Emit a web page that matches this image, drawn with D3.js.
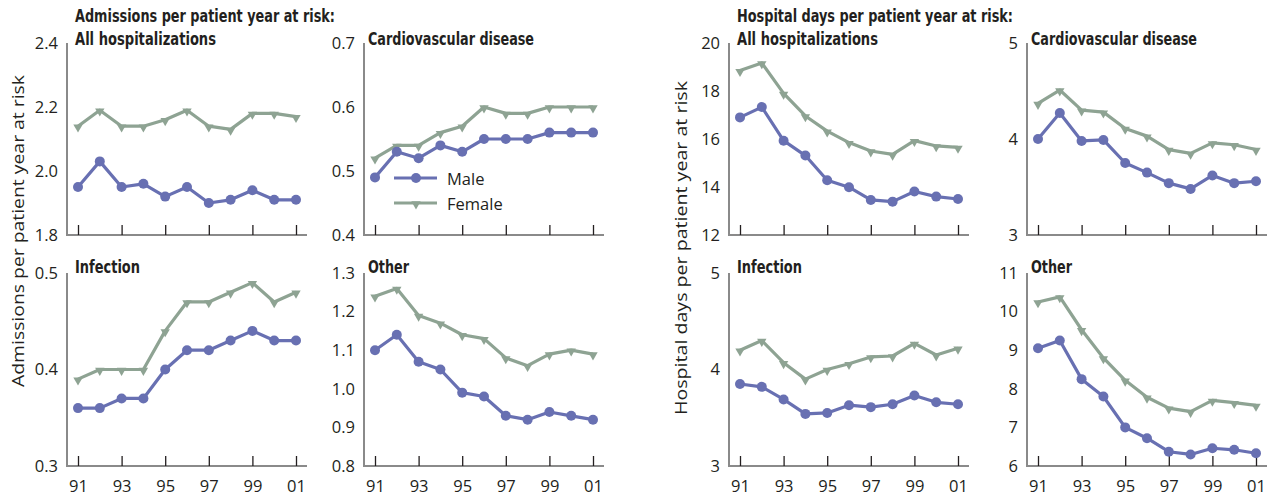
<!DOCTYPE html>
<html><head><meta charset="utf-8">
<script src="https://cdn.jsdelivr.net/npm/d3@7"></script>
<style>
html,body{margin:0;padding:0;background:#fff;}
svg{display:block;}
</style></head>
<body>
<svg id="chart" width="1269" height="497"></svg>
<script>
const years = [1991,1992,1993,1994,1995,1996,1997,1998,1999,2000,2001];
const tickYears = [1991,1993,1995,1997,1999,2001];
const tickYearLabels = ["91","93","95","97","99","01"];
const seriesNames = ["Male","Female"];

const groupTitles = ["Admissions per patient year at risk:", "Hospital days per patient year at risk:"];
const groupAxisTitles = ["Admissions per patient year at risk", "Hospital days per patient year at risk"];
const panelTitles = ["All hospitalizations","Cardiovascular disease","Infection","Other"];

// Admissions per patient year at risk
const admAllMale   = [1.95,2.03,1.95,1.96,1.92,1.95,1.90,1.91,1.94,1.91,1.91];
const admAllFemale = [2.14,2.19,2.14,2.14,2.16,2.19,2.14,2.13,2.18,2.18,2.17];
const admCvdMale   = [0.49,0.53,0.52,0.54,0.53,0.55,0.55,0.55,0.56,0.56,0.56];
const admCvdFemale = [0.52,0.54,0.54,0.56,0.57,0.60,0.59,0.59,0.60,0.60,0.60];
const admInfMale   = [0.36,0.36,0.37,0.37,0.40,0.42,0.42,0.43,0.44,0.43,0.43];
const admInfFemale = [0.39,0.40,0.40,0.40,0.44,0.47,0.47,0.48,0.49,0.47,0.48];
const admOthMale   = [1.10,1.14,1.07,1.05,0.99,0.98,0.93,0.92,0.94,0.93,0.92];
const admOthFemale = [1.24,1.26,1.19,1.17,1.14,1.13,1.08,1.06,1.09,1.10,1.09];

// Hospital days per patient year at risk
const dayAllMale   = [16.9,17.33,15.93,15.31,14.28,13.99,13.46,13.39,13.81,13.6,13.5];
const dayAllFemale = [18.85,19.17,17.9,16.96,16.33,15.85,15.5,15.36,15.93,15.71,15.65];
const dayCvdMale   = [4.00,4.27,3.98,3.99,3.75,3.65,3.54,3.48,3.62,3.54,3.56];
const dayCvdFemale = [4.37,4.51,4.30,4.28,4.11,4.03,3.89,3.85,3.96,3.94,3.89];
const dayInfMale   = [3.85,3.82,3.69,3.54,3.55,3.63,3.61,3.64,3.73,3.66,3.64];
const dayInfFemale = [4.20,4.30,4.07,3.90,4.00,4.06,4.13,4.14,4.27,4.15,4.22];
const dayOthMale   = [9.05,9.25,8.25,7.80,7.00,6.72,6.37,6.30,6.46,6.42,6.33];
const dayOthFemale = [10.25,10.38,9.53,8.80,8.22,7.78,7.50,7.41,7.70,7.64,7.57];

// y tick values per panel
const admAllTicks = [1.8,2.0,2.2,2.4];
const admCvdTicks = [0.4,0.5,0.6,0.7];
const admInfTicks = [0.3,0.4,0.5];
const admOthTicks = [0.8,0.9,1.0,1.1,1.2,1.3];
const dayAllTicks = [12,14,16,18,20];
const dayCvdTicks = [3,4,5];
const dayInfTicks = [3,4,5];
const dayOthTicks = [6,7,8,9,10,11];

const colors = {Male:"#6870b2", Female:"#8ea393"};
const ink = "#231f20";
const axisCol = "#8a8a8a";

const panels = [
  {g:0,col:0,row:0,title:panelTitles[0],male:admAllMale,female:admAllFemale,ticks:admAllTicks,fmt:d3.format(".1f")},
  {g:0,col:1,row:0,title:panelTitles[1],male:admCvdMale,female:admCvdFemale,ticks:admCvdTicks,fmt:d3.format(".1f"),legend:true},
  {g:0,col:0,row:1,title:panelTitles[2],male:admInfMale,female:admInfFemale,ticks:admInfTicks,fmt:d3.format(".1f")},
  {g:0,col:1,row:1,title:panelTitles[3],male:admOthMale,female:admOthFemale,ticks:admOthTicks,fmt:d3.format(".1f")},
  {g:1,col:0,row:0,title:panelTitles[0],male:dayAllMale,female:dayAllFemale,ticks:dayAllTicks,fmt:d3.format("d")},
  {g:1,col:1,row:0,title:panelTitles[1],male:dayCvdMale,female:dayCvdFemale,ticks:dayCvdTicks,fmt:d3.format("d")},
  {g:1,col:0,row:1,title:panelTitles[2],male:dayInfMale,female:dayInfFemale,ticks:dayInfTicks,fmt:d3.format("d")},
  {g:1,col:1,row:1,title:panelTitles[3],male:dayOthMale,female:dayOthFemale,ticks:dayOthTicks,fmt:d3.format("d")},
];

// layout
const axisX = [[67,364],[729,1027]];
const rowTop = [43,273], rowBot = [235,466];
const panelW = 240;
const boldFont = "'Liberation Sans Narrow','DejaVu Sans Condensed','Roboto Condensed',sans-serif";
const regFont = "'Open Sans','Noto Sans',sans-serif";

const svg = d3.select("#chart");

// group titles and y axis titles
const groupTitleX = [75,737];
const groupTitleW = [260,276];
const axisTitleX = [17,680];
const axisTitleY = [231,248];
const axisTitleW = [312,334];
[0,1].forEach(g=>{
  svg.append("text").attr("x",groupTitleX[g]).attr("y",22)
    .attr("font-family",boldFont).attr("font-weight","bold").attr("font-size",18.5)
    .attr("fill",ink).attr("textLength",groupTitleW[g]).attr("lengthAdjust","spacingAndGlyphs")
    .text(groupTitles[g]);
  svg.append("text")
    .attr("transform",`translate(${axisTitleX[g]},${axisTitleY[g]}) rotate(-90)`)
    .attr("text-anchor","middle").attr("dominant-baseline","central")
    .attr("font-family",regFont).attr("font-size",16.5).attr("fill",ink)
    .attr("textLength",axisTitleW[g]).attr("lengthAdjust","spacingAndGlyphs")
    .text(groupAxisTitles[g]);
});

const titleW = {"All hospitalizations":141,"Cardiovascular disease":166,"Infection":65,"Other":41};

const symTri = d3.symbol().type(d3.symbolTriangle).size(38);

panels.forEach(p=>{
  const x0 = axisX[p.g][p.col];
  const top = rowTop[p.row], bot = rowBot[p.row];
  const x = d3.scaleLinear().domain([1991,2001]).range([x0+11,x0+229]);
  const y = d3.scaleLinear().domain([p.ticks[0],p.ticks[p.ticks.length-1]]).range([bot,top]);
  const g = svg.append("g");

  // axes lines
  g.append("line").attr("x1",x0).attr("x2",x0).attr("y1",top).attr("y2",bot)
    .attr("stroke",axisCol).attr("stroke-width",2);
  g.append("line").attr("x1",x0-1).attr("x2",x0+panelW).attr("y1",bot).attr("y2",bot)
    .attr("stroke",axisCol).attr("stroke-width",2);

  // x ticks (inward)
  const xa = d3.axisBottom(x).tickValues(tickYears).tickSizeInner(-10).tickSizeOuter(0)
    .tickFormat((d,i)=> p.row===1 ? tickYearLabels[i] : "");
  const xg = g.append("g").attr("transform",`translate(0,${bot})`).call(xa);
  xg.select(".domain").remove();
  xg.selectAll(".tick line").attr("stroke",ink).attr("stroke-width",1.3);
  xg.selectAll(".tick text").attr("font-family",regFont).attr("font-size",16.5).attr("fill",ink)
    .attr("y",14).attr("dy","0.71em");

  // y tick labels
  const ya = d3.axisLeft(y).tickValues(p.ticks).tickSize(0).tickPadding(9).tickFormat(p.fmt);
  const yg = g.append("g").attr("transform",`translate(${x0},0)`).call(ya);
  yg.select(".domain").remove();
  yg.selectAll(".tick text").attr("font-family",regFont).attr("font-size",16.5).attr("fill",ink);

  // title
  const ty = p.row===0 ? 45 : 273;
  g.append("text").attr("x",x0+(p.col===0?8:4)).attr("y",ty)
    .attr("font-family",boldFont).attr("font-weight","bold").attr("font-size",18.5).attr("fill",ink)
    .attr("textLength",titleW[p.title]).attr("lengthAdjust","spacingAndGlyphs")
    .text(p.title);

  const line = d3.line().x((d,i)=>x(years[i])).y(d=>y(d));
  // female
  g.append("path").datum(p.female).attr("d",line).attr("fill","none")
    .attr("stroke",colors.Female).attr("stroke-width",3.2).attr("stroke-linejoin","round");
  g.selectAll(".tf").data(p.female).enter().append("path")
    .attr("d",symTri).attr("fill",colors.Female)
    .attr("transform",(d,i)=>`translate(${x(years[i])},${y(d)+1}) rotate(180)`);
  // male
  g.append("path").datum(p.male).attr("d",line).attr("fill","none")
    .attr("stroke",colors.Male).attr("stroke-width",3.2).attr("stroke-linejoin","round");
  g.selectAll(".cm").data(p.male).enter().append("circle")
    .attr("cx",(d,i)=>x(years[i])).attr("cy",d=>y(d)).attr("r",5).attr("fill",colors.Male);

  if(p.legend){
    const lx = x0+30, ly = [178,203];
    seriesNames.forEach((s,i)=>{
      g.append("line").attr("x1",lx).attr("x2",lx+43).attr("y1",ly[i]).attr("y2",ly[i])
        .attr("stroke",colors[s]).attr("stroke-width",3.2);
      if(s==="Male"){
        g.append("circle").attr("cx",lx+22).attr("cy",ly[i]).attr("r",5).attr("fill",colors[s]);
      } else {
        g.append("path").attr("d",symTri).attr("fill",colors[s])
          .attr("transform",`translate(${lx+22},${ly[i]+1}) rotate(180)`);
      }
      g.append("text").attr("x",lx+53).attr("y",ly[i]).attr("dominant-baseline","central")
        .attr("font-family",regFont).attr("font-size",16.5).attr("fill",ink).text(s);
    });
  }
});
</script>
</body></html>
